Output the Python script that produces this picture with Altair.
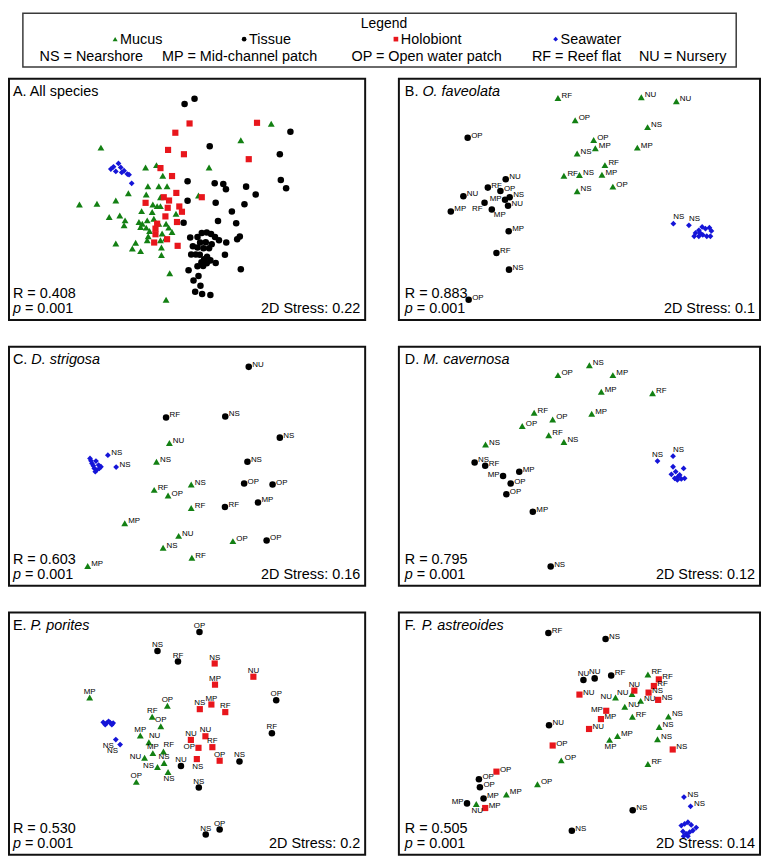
import altair as alt
import pandas as pd

# ---------------------------------------------------------------------------
# Data: NMDS ordination coordinates (arbitrary units,
# second axis increases downward).  Site codes: NS, MP, OP, RF, NU.
# ---------------------------------------------------------------------------

# Panel A - All species
A_MUCUS_X = [305, 820, 728, 440, 473, 632, 492, 447, 480, 505, 388, 442, 485, 600, 350, 293, 240,
             462, 475, 485, 428, 460, 330, 362, 378, 375, 420, 430, 445, 465, 480, 502, 532, 425,
             442, 452, 510, 520, 490, 500, 485, 445, 448, 350, 410, 400, 425, 488, 488, 513, 502]
A_MUCUS_Y = [220, 148, 198, 280, 273, 280, 305, 337, 337, 337, 358, 362, 370, 365, 380, 390, 392,
             392, 397, 397, 412, 415, 430, 425, 440, 455, 445, 450, 440, 435, 450, 450, 420, 460,
             462, 472, 462, 475, 480, 495, 500, 500, 488, 510, 508, 525, 533, 522, 545, 600, 680]
A_TISSUE_X = [558, 588, 634, 878, 846, 849, 865, 567, 649, 675, 683, 744, 773, 567, 652, 739, 701,
              659, 714, 555, 725, 717, 684, 680, 652, 728, 575, 597, 610, 625, 638, 650, 662, 605,
              622, 640, 583, 597, 615, 632, 578, 592, 604, 626, 617, 636, 609, 625, 597, 614, 570,
              600, 585, 606, 590, 611, 636]
A_TISSUE_Y = [88, 72, 216, 172, 240, 318, 343, 322, 328, 330, 346, 338, 362, 381, 387, 391, 413,
              442, 449, 447, 489, 497, 507, 544, 569, 588, 492, 490, 478, 477, 481, 490, 500, 507,
              506, 512, 518, 522, 524, 524, 543, 543, 544, 550, 558, 561, 567, 570, 579, 578, 591,
              608, 622, 638, 656, 663, 666]
A_HOLO_X = [573, 777, 530, 508, 556, 752, 485, 520, 533, 610, 495, 511, 440, 507, 542, 550, 500,
            535, 475, 470, 470, 466, 505, 537]
A_HOLO_Y = [147, 145, 175, 227, 240, 255, 282, 306, 357, 370, 370, 380, 387, 402, 398, 414, 428,
            445, 450, 465, 482, 507, 497, 517]
A_SEA_X = [335, 343, 358, 365, 375, 385, 350, 368, 390, 398]
A_SEA_Y = [285, 278, 268, 280, 290, 300, 292, 295, 302, 328]

# Panel B - O. faveolata
B_MUCUS_X = [532, 784, 890, 584, 803, 640, 645, 590, 772, 674, 550, 597, 665, 698, 590]
B_MUCUS_Y = [70, 68, 80, 137, 158, 197, 222, 238, 220, 273, 305, 303, 302, 338, 352]
B_MUCUS_SITE = ["RF", "NU", "NU", "OP", "NS", "OP", "MP", "NS", "MP", "RF", "RF", "NS", "MP", "OP", "NS"]
B_TISSUE_X = [259, 374, 320, 358, 246, 386, 372, 310, 332, 381, 208, 383, 346, 384, 262]
B_TISSUE_Y = [190, 316, 341, 351, 367, 370, 378, 387, 407, 396, 413, 473, 539, 589, 680]
B_TISSUE_SITE = ["OP", "NU", "RF", "OP", "NU", "NS", "MP", "RF", "MP", "NU", "MP", "MP", "RF", "NS", "OP"]
B_SEA_X = [881, 928, 948, 958, 968, 978, 990, 996, 944, 958, 970, 982, 993, 962]
B_SEA_Y = [450, 455, 478, 470, 460, 465, 462, 472, 488, 488, 484, 488, 488, 478]
B_SEA_SITE = ["NS", "NS", "", "", "", "", "", "", "", "", "", "", "", ""]

# Panel C - D. strigosa
C_MUCUS_X = [512, 473, 578, 466, 508, 578, 377, 540, 704, 493, 580, 265]
C_MUCUS_Y = [393, 450, 519, 535, 552, 590, 636, 674, 690, 710, 740, 765]
C_MUCUS_SITE = ["NU", "NS", "NS", "RF", "OP", "RF", "MP", "NU", "OP", "NS", "RF", "MP"]
C_TISSUE_X = [752, 502, 681, 846, 748, 738, 824, 780, 680, 806]
C_TISSUE_Y = [163, 316, 313, 377, 450, 516, 519, 573, 587, 688]
C_TISSUE_SITE = ["NU", "RF", "NS", "NS", "NS", "OP", "OP", "MP", "RF", "OP"]
C_SEA_X = [326, 351, 272, 278, 290, 298, 305, 285, 292, 300, 282, 275, 288]
C_SEA_Y = [430, 466, 440, 455, 448, 460, 465, 470, 475, 470, 462, 447, 480]
C_SEA_SITE = ["NS", "NS", "", "", "", "", "", "", "", "", "", "", ""]

# Panel D - M. cavernosa
D_MUCUS_X = [627, 532, 698, 663, 818, 460, 516, 634, 424, 504, 550, 313]
D_MUCUS_Y = [158, 188, 188, 238, 243, 302, 322, 305, 342, 370, 390, 398]
D_MUCUS_SITE = ["NS", "OP", "MP", "MP", "RF", "RF", "OP", "MP", "OP", "RF", "NS", "NS"]
D_TISSUE_X = [280, 312, 366, 415, 389, 376, 456, 510]
D_TISSUE_Y = [452, 462, 493, 480, 516, 548, 601, 767]
D_TISSUE_SITE = ["NS", "RF", "MP", "MP", "OP", "OP", "MP", "NS"]
D_SEA_X = [833, 880, 880, 912, 875, 888, 895, 905, 915, 885, 893, 900]
D_SEA_Y = [448, 433, 465, 470, 488, 480, 495, 502, 500, 500, 505, 490]
D_SEA_SITE = ["NS", "NS", "", "", "", "", "", "", "", "", "", ""]

# Panel E - P. porites
E_MUCUS_X = [271, 506, 460, 486, 424, 450, 462, 494, 437, 496, 476, 508, 412]
E_MUCUS_Y = [443, 468, 501, 530, 558, 578, 611, 606, 625, 641, 653, 668, 698]
E_MUCUS_SITE = ["MP", "OP", "RF", "OP", "MP", "NU", "MP", "RF", "NU", "NS", "NS", "NS", "OP"]
E_TISSUE_X = [603, 476, 538, 835, 822, 724, 547, 601, 622, 664]
E_TISSUE_Y = [245, 302, 334, 451, 551, 636, 650, 715, 857, 842]
E_TISSUE_SITE = ["OP", "NS", "RF", "OP", "RF", "NS", "NU", "NS", "NS", "OP"]
E_HOLO_X = [649, 766, 650, 604, 639, 681, 577, 621, 600, 642, 595, 664]
E_HOLO_Y = [340, 380, 404, 478, 464, 487, 571, 560, 595, 593, 629, 634]
E_HOLO_SITE = ["NS", "NU", "MP", "NS", "MP", "RF", "NU", "NU", "OP", "RF", "NS", "OP"]
E_SEA_X = [350, 363, 312, 322, 332, 342, 318, 338, 328]
E_SEA_Y = [570, 585, 518, 520, 518, 520, 525, 525, 515]
E_SEA_SITE = ["NS", "NS", "", "", "", "", "", "", ""]

# Panel F - P. astreoides
F_MUCUS_X = [804, 706, 756, 782, 734, 757, 866, 838, 712, 688, 833, 804, 542, 470, 376, 285]
F_MUCUS_Y = [373, 443, 432, 453, 471, 501, 500, 532, 559, 571, 569, 644, 633, 705, 736, 765]
F_MUCUS_SITE = ["RF", "NU", "NU", "NU", "NU", "RF", "NS", "NS", "MP", "MP", "NS", "RF", "OP", "OP", "MP", "NU"]
F_TISSUE_X = [503, 676, 609, 643, 693, 505, 293, 296, 307, 257, 758, 574]
F_TISSUE_Y = [248, 266, 390, 385, 376, 527, 690, 714, 748, 763, 784, 846]
F_TISSUE_SITE = ["RF", "NS", "NU", "NU", "RF", "NU", "OP", "OP", "MP", "MP", "NS", "NS"]
F_HOLO_X = [597, 763, 837, 822, 806, 835, 678, 662, 626, 516, 346, 312, 879]
F_HOLO_Y = [434, 422, 388, 408, 428, 450, 483, 508, 538, 588, 667, 777, 600]
F_HOLO_SITE = ["NU", "NU", "RF", "RF", "NS", "NS", "MP", "MP", "NU", "OP", "OP", "MP", "NS"]
F_SEA_X = [913, 933, 905, 915, 925, 935, 950, 910, 920, 930, 940, 912, 925]
F_SEA_Y = [744, 772, 830, 825, 820, 828, 836, 848, 855, 850, 845, 862, 862]
F_SEA_SITE = ["NS", "NS", "", "", "", "", "", "", "", "", "", "", ""]

# Statistics
PANEL_STATS = {
    "A": ("All species", "0.408", "0.001", "0.22"),
    "B": ("O. faveolata", "0.883", "0.001", "0.1"),
    "C": ("D. strigosa", "0.603", "0.001", "0.16"),
    "D": ("M. cavernosa", "0.795", "0.001", "0.12"),
    "E": ("P. porites", "0.530", "0.001", "0.2"),
    "F": ("P. astreoides", "0.505", "0.001", "0.14"),
}

LEGEND_GROUPS = ["Mucus", "Tissue", "Holobiont", "Seawater"]
LEGEND_SITES = ["NS = Nearshore", "MP = Mid-channel patch", "OP = Open water patch",
                "RF = Reef flat", "NU = Nursery"]

# ---------------------------------------------------------------------------
# Styling (label placement next to each point: r/l/t/b/tr/br/bl)
# ---------------------------------------------------------------------------
B_TISSUE_SIDE = ["r", "r", "r", "r", "r", "r", "l", "bl", "br", "r", "r", "r", "r", "r", "r"]
B_SEA_SIDE = ["tr", "tr"] + ["r"] * 12
D_TISSUE_SIDE = ["r", "r", "l", "r", "r", "r", "r", "r"]
D_SEA_SIDE = ["t", "tr"] + ["r"] * 10
E_MUCUS_SIDE = ["t", "t", "t", "t", "t", "tr", "t", "tr", "l", "t", "l", "b", "t"]
E_TISSUE_SIDE = ["t"] * 10
E_HOLO_SIDE = ["t", "t", "t", "t", "t", "t", "t", "t", "l", "t", "b", "t"]
E_SEA_SIDE = ["bl", "bl"] + ["r"] * 7
F_MUCUS_SIDE = ["r", "l", "l", "r", "r", "r", "r", "r", "r", "b", "r", "r", "r", "r", "r", "b"]
F_TISSUE_SIDE = ["r", "r", "t", "t", "r", "r", "r", "r", "r", "l", "r", "r"]
F_HOLO_SIDE = ["r", "t", "r", "r", "r", "r", "l", "r", "r", "r", "r", "r", "r"]

FONT = "Liberation Sans"
SHAPES = ["triangle-up", "circle", "square", "diamond"]
COLORS = ["#138013", "#000000", "#e8161c", "#1515d8"]
SIZES = [48, 34, 38, 40]
LABEL_SIDES = {
    "r": dict(align="left", baseline="middle", dx=3.5, dy=-2),
    "l": dict(align="right", baseline="middle", dx=-3.5, dy=-1),
    "t": dict(align="center", baseline="alphabetic", dx=0, dy=-4),
    "b": dict(align="center", baseline="top", dx=1, dy=3.5),
    "tr": dict(align="left", baseline="alphabetic", dx=0, dy=-4.5),
    "br": dict(align="left", baseline="top", dx=2, dy=1.5),
    "bl": dict(align="right", baseline="top", dx=-2, dy=2.5),
}
CHAR_W = {"A": 0.667, "B": 0.667, "C": 0.722, "D": 0.722, "E": 0.667, "F": 0.611}
TXT = 14.5

LEFT_W, RIGHT_W = 359, 364
ROW_H = [243, 241, 244]
LEFT_XDOM, RIGHT_XDOM = [27, 1104], [51, 1143]
ROW_YDOM = [[12, 741], [102, 825], [186, 918]]


def group_frame(group, xs, ys, sites=None, sides=None):
    n = len(xs)
    return pd.DataFrame({
        "nmds1": xs, "nmds2": ys, "group": [group] * n,
        "site": sites if sites is not None else [""] * n,
        "side": sides if sides is not None else ["r"] * n,
    })


def note(text, x, y, align="left", italic=False, size=TXT, baseline="alphabetic"):
    return alt.Chart(pd.DataFrame({"t": [text]})).mark_text(
        font=FONT, fontSize=size, fontStyle="italic" if italic else "normal",
        align=align, baseline=baseline, color="black",
    ).encode(x=alt.value(x), y=alt.value(y), text="t:N")


def panel(key, frames, xdom, ydom, w, h, inset):
    species, r_val, p_val, stress = PANEL_STATS[key]
    df = pd.concat(frames, ignore_index=True)
    base = alt.Chart(df)
    X = alt.X("nmds1:Q", scale=alt.Scale(domain=xdom, nice=False, zero=False), axis=None)
    Y = alt.Y("nmds2:Q", scale=alt.Scale(domain=ydom, reverse=True, nice=False, zero=False), axis=None)
    layers = [base.mark_point(filled=True, opacity=1, strokeWidth=0).encode(
        x=X, y=Y,
        shape=alt.Shape("group:N", scale=alt.Scale(domain=LEGEND_GROUPS, range=SHAPES), legend=None),
        color=alt.Color("group:N", scale=alt.Scale(domain=LEGEND_GROUPS, range=COLORS), legend=None),
        size=alt.Size("group:N", scale=alt.Scale(domain=LEGEND_GROUPS, range=SIZES), legend=None),
    )]
    sides_present = set(df.loc[df["site"] != "", "side"])
    for side, props in LABEL_SIDES.items():
        if side not in sides_present:
            continue
        layers.append(base.transform_filter(
            (alt.datum.side == side) & (alt.datum.site != "")
        ).mark_text(font=FONT, fontSize=8, color="#000000", **props).encode(x=X, y=Y, text="site:N"))
    ty = 17.5
    if key == "A":
        layers.append(note(f"{key}. {species}", inset, ty))
    else:
        layers.append(note(f"{key}.", inset, ty))
        layers.append(note(species, inset + (CHAR_W[key] + 0.556) * TXT, ty, italic=True))
    layers.append(note(f"R = {r_val}", inset, h - 22))
    layers.append(note("p", inset, h - 7, italic=True))
    layers.append(note(f"= {p_val}", inset + (0.556 + 0.278) * TXT, h - 7))
    layers.append(note(f"2D Stress: {stress}", w - 5, h - 7, align="right"))
    return alt.layer(*layers).properties(width=w, height=h)


pa = panel("A", [group_frame("Mucus", A_MUCUS_X, A_MUCUS_Y), group_frame("Tissue", A_TISSUE_X, A_TISSUE_Y),
                 group_frame("Holobiont", A_HOLO_X, A_HOLO_Y), group_frame("Seawater", A_SEA_X, A_SEA_Y)],
           LEFT_XDOM, ROW_YDOM[0], LEFT_W, ROW_H[0], 4)
pb = panel("B", [group_frame("Mucus", B_MUCUS_X, B_MUCUS_Y, B_MUCUS_SITE),
                 group_frame("Tissue", B_TISSUE_X, B_TISSUE_Y, B_TISSUE_SITE, B_TISSUE_SIDE),
                 group_frame("Seawater", B_SEA_X, B_SEA_Y, B_SEA_SITE, B_SEA_SIDE)],
           RIGHT_XDOM, ROW_YDOM[0], RIGHT_W, ROW_H[0], 6)
pc = panel("C", [group_frame("Mucus", C_MUCUS_X, C_MUCUS_Y, C_MUCUS_SITE),
                 group_frame("Tissue", C_TISSUE_X, C_TISSUE_Y, C_TISSUE_SITE),
                 group_frame("Seawater", C_SEA_X, C_SEA_Y, C_SEA_SITE)],
           LEFT_XDOM, ROW_YDOM[1], LEFT_W, ROW_H[1], 4)
pd_ = panel("D", [group_frame("Mucus", D_MUCUS_X, D_MUCUS_Y, D_MUCUS_SITE),
                  group_frame("Tissue", D_TISSUE_X, D_TISSUE_Y, D_TISSUE_SITE, D_TISSUE_SIDE),
                  group_frame("Seawater", D_SEA_X, D_SEA_Y, D_SEA_SITE, D_SEA_SIDE)],
            RIGHT_XDOM, ROW_YDOM[1], RIGHT_W, ROW_H[1], 6)
pe = panel("E", [group_frame("Mucus", E_MUCUS_X, E_MUCUS_Y, E_MUCUS_SITE, E_MUCUS_SIDE),
                 group_frame("Tissue", E_TISSUE_X, E_TISSUE_Y, E_TISSUE_SITE, E_TISSUE_SIDE),
                 group_frame("Holobiont", E_HOLO_X, E_HOLO_Y, E_HOLO_SITE, E_HOLO_SIDE),
                 group_frame("Seawater", E_SEA_X, E_SEA_Y, E_SEA_SITE, E_SEA_SIDE)],
           LEFT_XDOM, ROW_YDOM[2], LEFT_W, ROW_H[2], 4)
pf = panel("F", [group_frame("Mucus", F_MUCUS_X, F_MUCUS_Y, F_MUCUS_SITE, F_MUCUS_SIDE),
                 group_frame("Tissue", F_TISSUE_X, F_TISSUE_Y, F_TISSUE_SITE, F_TISSUE_SIDE),
                 group_frame("Holobiont", F_HOLO_X, F_HOLO_Y, F_HOLO_SITE, F_HOLO_SIDE),
                 group_frame("Seawater", F_SEA_X, F_SEA_Y, F_SEA_SITE)],
           RIGHT_XDOM, ROW_YDOM[2], RIGHT_W, ROW_H[2], 6)

# ---------------------------------------------------------------------------
# Legend box
# ---------------------------------------------------------------------------
one = pd.DataFrame({"a": [0]})
leg_layers = [
    alt.Chart(one).mark_rect(fillOpacity=0, stroke="#3a3a3a", strokeWidth=1.5).encode(
        x=alt.value(14), x2=alt.value(733), y=alt.value(1), y2=alt.value(55)),
    note("Legend", 378, 16, align="center", size=14),
]
sym_x = [107, 237, 390, 551]
leg_sizes = [26, 22, 22, 24]
for name, shp, col, sx, ss in zip(LEGEND_GROUPS, SHAPES, COLORS, sym_x, leg_sizes):
    leg_layers.append(alt.Chart(one).mark_point(
        shape=shp, filled=True, color=col, size=ss, opacity=1, strokeWidth=0
    ).encode(x=alt.value(sx), y=alt.value(27)))
    leg_layers.append(note(name, sx + 5, 32))
for text, cx in zip(LEGEND_SITES, [83, 232.5, 421, 572, 679]):
    leg_layers.append(note(text, cx, 49, align="center"))
legend = alt.layer(*leg_layers).properties(
    width=758, height=56, view=alt.ViewBackground(stroke="transparent"))

grid = alt.concat(pa, pb, pc, pd_, pe, pf, columns=2,
                  spacing={"row": 27, "column": 34}, bounds="flush")

chart = alt.vconcat(legend, grid, spacing=9).properties(
    padding=0, background="white"
).configure_view(stroke="#111111", strokeWidth=2)

chart.save("out.html", embed_options={"renderer": "svg", "actions": False})
